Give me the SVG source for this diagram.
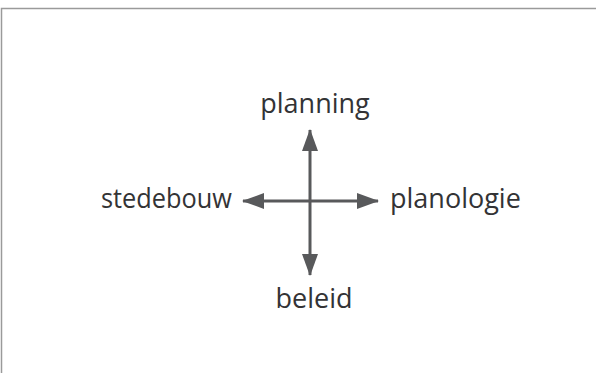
<svg xmlns="http://www.w3.org/2000/svg" width="596" height="373" viewBox="0 0 596 373">
<style>
.lbl{font-family:"Open Sans","Liberation Sans",sans-serif;font-size:27px;fill:#333335}
.ax{stroke:#58595b;stroke-width:3;fill:none}
</style>
<defs>
<marker id="ah" markerWidth="22" markerHeight="16" refX="21" refY="8" orient="auto" markerUnits="userSpaceOnUse">
<path d="M0,0 L22,8 L0,16 Z" fill="#58595b"/>
</marker>
</defs>
<rect width="596" height="373" fill="#fff"/>
<path d="M1.5,373 V8.5 H596" fill="none" stroke="#9a9a9a" stroke-width="1.5"/>
<g id="connectors">
<line class="ax" x1="310" y1="201" x2="310" y2="130" marker-end="url(#ah)"/>
<line class="ax" x1="310" y1="201" x2="310" y2="275" marker-end="url(#ah)"/>
<line class="ax" x1="310" y1="201" x2="243" y2="201" marker-end="url(#ah)"/>
<line class="ax" x1="310" y1="201" x2="378" y2="201" marker-end="url(#ah)"/>
</g>
<g id="planning"><text class="lbl" x="315" y="113" text-anchor="middle">planning</text></g>
<g id="stedebouw"><text class="lbl" x="101" y="208" textLength="131" lengthAdjust="spacingAndGlyphs">stedebouw</text></g>
<g id="planologie"><text class="lbl" x="390" y="208">planologie</text></g>
<g id="beleid"><text class="lbl" x="314" y="308" text-anchor="middle">beleid</text></g>
</svg>
